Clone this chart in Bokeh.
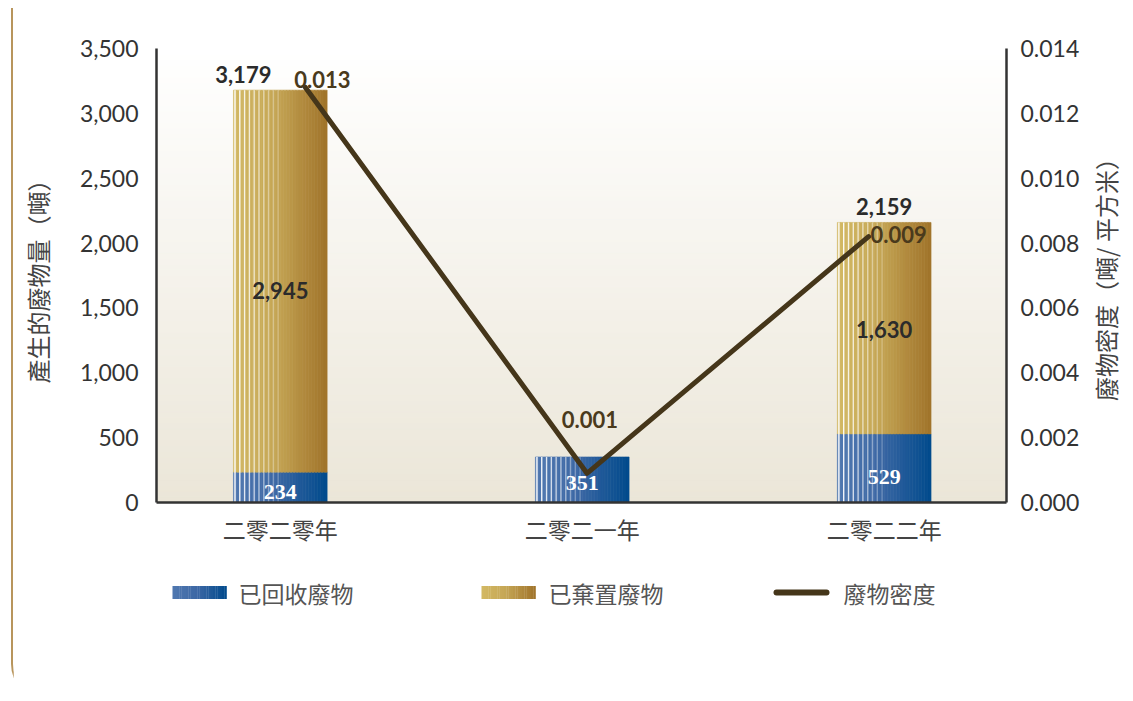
import numpy as np
from bokeh.plotting import figure
from bokeh.models import Range1d, LinearAxis, FixedTicker, NumeralTickFormatter
from bokeh.layouts import column, row
from bokeh.embed import file_html
from bokeh.resources import INLINE
from bokeh.core.properties import value

# ---------------- data ----------------
categories = ["二零二零年", "二零二一年", "二零二二年"]
recycled = [234, 351, 529]
disposed = [2945, 0, 1630]
density = [0.0128, 0.0009, 0.0082]
density_labels = ["0.013", "0.001", "0.009"]
left_ticks = [0, 500, 1000, 1500, 2000, 2500, 3000, 3500]
right_ticks = [0.000, 0.002, 0.004, 0.006, 0.008, 0.010, 0.012, 0.014]
series_names = ["已回收廢物", "已棄置廢物", "廢物密度"]
left_title = "產生的廢物量（噸）"
right_title = "廢物密度（噸/ 平方米）"

totals = [r + d for r, d in zip(recycled, disposed)]
xs = list(range(len(categories)))

# ---------------- style ----------------
NUM_FONT = "Lato"
CJK_FONT = "Noto Sans CJK TC"
BLUE_STOPS = [(0.0, "#5078b0"), (0.45, "#3d68a5"), (1.0, "#004a8c")]
GOLD_STOPS = [(0.0, "#d3b964"), (0.45, "#c5a655"), (1.0, "#a0732a")]
LINE_COLOR = "#45361a"
BG_TOP, BG_BOTTOM = "#ffffff", "#ebe6d8"
BORDER = "#b8955c"

W = 1077          # main + legend figure width
W_RT = 41         # strip holding the right axis title
H1 = 560
H2 = 130
B_LEFT, B_RIGHT = 143, 84
B_TOP, B_BOTTOM = 40, 66
BAR_W = 0.31
X_RANGE = (-0.41, 2.405)
LINE_X_RANGE = (-0.529, 2.490)
FRAME_W = W - B_LEFT - B_RIGHT
FRAME_H = H1 - B_TOP - B_BOTTOM


def hex2rgb(h):
    h = h.lstrip("#")
    return np.array([int(h[i:i + 2], 16) for i in (0, 2, 4)], dtype=float)


def grad(stops, t):
    for (t0, c0), (t1, c1) in zip(stops[:-1], stops[1:]):
        if t <= t1:
            f = (t - t0) / (t1 - t0) if t1 > t0 else 0
            c = hex2rgb(c0) * (1 - f) + hex2rgb(c1) * f
            return "#%02x%02x%02x" % tuple(int(round(v)) for v in c)
    return stops[-1][1]


p = figure(width=W, height=H1, output_backend="svg", toolbar_location=None,
           x_range=Range1d(*X_RANGE), y_range=Range1d(0, left_ticks[-1]),
           min_border_left=B_LEFT, min_border_right=B_RIGHT, min_border_top=B_TOP,
           min_border_bottom=B_BOTTOM)
p.extra_x_ranges = {"line_x": Range1d(*LINE_X_RANGE)}
p.extra_y_ranges = {"density": Range1d(0, right_ticks[-1])}
p.outline_line_color = None
p.xgrid.visible = False
p.ygrid.visible = False
p.background_fill_color = "white"
p.border_fill_color = "white"

# background gradient (decorative)
NB = 80
ymax = left_ticks[-1]
bg_bottom = [ymax * k / NB for k in range(NB)]
bg_top = [ymax * (k + 1) / NB + 1 for k in range(NB)]
bg_col = [grad([(0, BG_BOTTOM), (1, BG_TOP)], (k + 0.5) / NB) for k in range(NB)]
p.quad(left=X_RANGE[0] - 1, right=X_RANGE[1] + 1, bottom=bg_bottom, top=bg_top,
       fill_color=bg_col, line_color=bg_col, line_width=1)

# gradient bars built from thin slices
NS = 30
px = (X_RANGE[1] - X_RANGE[0]) / FRAME_W
sx, sw, sb, st, sc = [], [], [], [], []
for i in xs:
    for j in range(NS):
        t = (j + 0.5) / NS
        xc = i - BAR_W / 2 + t * BAR_W
        sx.append(xc); sw.append(BAR_W / NS * 1.02); sb.append(0); st.append(recycled[i])
        sc.append(grad(BLUE_STOPS, t))
        if disposed[i] > 0:
            sx.append(xc); sw.append(BAR_W / NS * 1.02); sb.append(recycled[i]); st.append(totals[i])
            sc.append(grad(GOLD_STOPS, t))
p.vbar(x=sx, width=sw, bottom=sb, top=st, fill_color=sc, line_color=sc, line_width=0.6)

# white stripes on left part of bars
NSTR = 10
stx, sty1, sta = [], [], []
for i in xs:
    for k in range(NSTR):
        stx.append(i - BAR_W / 2 + (1.5 + 4.8 * k) * px)
        sty1.append(totals[i])
        sta.append(1.0 - 0.75 * k / (NSTR - 1))
p.segment(x0=stx, x1=stx, y0=[0] * len(stx), y1=sty1, line_color="white",
          line_alpha=sta, line_width=1.4)

# density line
p.line(x=xs, y=density, x_range_name="line_x", y_range_name="density",
       line_width=5, line_color=LINE_COLOR, line_cap="round", line_join="round")

# ---- labels ----
tot_idx = [i for i in xs if disposed[i] > 0]
tot_xoff = {0: -37, 2: 0}
p.text(x=tot_idx, y=[totals[i] for i in tot_idx], text=["{:,}".format(totals[i]) for i in tot_idx],
       x_offset=[tot_xoff[i] for i in tot_idx], y_offset=-16,
       text_align="center", text_baseline="middle", text_font=value(NUM_FONT),
       text_font_style="bold", text_font_size="22px", text_color="#2b2b2b")

p.text(x=tot_idx, y=[recycled[i] + disposed[i] / 2 for i in tot_idx],
       text=["{:,}".format(disposed[i]) for i in tot_idx], y_offset=[9, 1],
       text_align="center", text_baseline="middle", text_font=value(NUM_FONT),
       text_font_style="bold", text_font_size="22px", text_color="#2b2b2b")

p.text(x=xs, y=[r / 2 for r in recycled], text=["{:,}".format(r) for r in recycled],
       y_offset=[5, 3, 9], text_align="center", text_baseline="middle",
       text_font=value("Liberation Serif"), text_font_style="bold",
       text_font_size="22px", text_color="white")

p.text(x=xs, y=density, text=density_labels, x_range_name="line_x", y_range_name="density",
       x_offset=[17, 3, 30], y_offset=[-8, -54, -2], text_align="center", text_baseline="middle",
       text_font=value(NUM_FONT), text_font_style="bold", text_font_size="22px",
       text_color="#4a3a1c")

# ---- axes ----
AX_COL = "#333333"
xa = p.xaxis[0]
xa.ticker = FixedTicker(ticks=xs)
xa.major_label_overrides = {i: c for i, c in enumerate(categories)}
xa.major_tick_out = 0
xa.major_tick_in = 0
xa.minor_tick_out = 0
xa.minor_tick_in = 0
xa.axis_line_color = AX_COL
xa.axis_line_width = 2.5
xa.major_label_standoff = 9
xa.major_label_text_font = CJK_FONT
xa.major_label_text_font_size = "23px"
xa.major_label_text_color = "#444444"

ya = p.yaxis[0]
ya.ticker = FixedTicker(ticks=left_ticks)
ya.formatter = NumeralTickFormatter(format="0,0")
ya.axis_label = left_title

ra = LinearAxis(y_range_name="density", ticker=FixedTicker(ticks=right_ticks),
                formatter=NumeralTickFormatter(format="0.000"))
p.add_layout(ra, "right")

for ax, stand, lstand in ((ya, 18, 22), (ra, 14, 16)):
    ax.major_tick_out = 0
    ax.major_tick_in = 0
    ax.minor_tick_out = 0
    ax.minor_tick_in = 0
    ax.axis_line_color = AX_COL
    ax.axis_line_width = 2.5
    ax.major_label_standoff = stand
    ax.major_label_text_font = NUM_FONT
    ax.major_label_text_font_size = "23px"
    ax.major_label_text_color = "#333333"
    ax.axis_label_standoff = lstand
    ax.axis_label_text_font = CJK_FONT
    ax.axis_label_text_font_size = "24px"
    ax.axis_label_text_font_style = "normal"
    ax.axis_label_text_color = "#444444"

# ---------------- right title strip (reads bottom to top) ----------------
rt = figure(width=W_RT, height=H1, output_backend="svg", toolbar_location=None,
            x_range=Range1d(0, W_RT), y_range=Range1d(0, FRAME_H),
            min_border_left=0, min_border_right=0, min_border_top=B_TOP,
            min_border_bottom=B_BOTTOM, x_axis_type=None, y_axis_type=None)
rt.outline_line_color = None
rt.xgrid.visible = False
rt.ygrid.visible = False
rt.background_fill_color = "white"
rt.border_fill_color = "white"
rt.text(x=[15], y=[FRAME_H / 2 + 2], text=[right_title], angle=np.pi / 2,
        text_align="center", text_baseline="middle", text_font=value(CJK_FONT),
        text_font_size="24px", text_color="#444444")

# ---------------- legend figure (x in page pixels across the frame) ----------------
FRAME_PAGE_LEFT = 156
lg = figure(width=W, height=H2, output_backend="svg", toolbar_location=None,
            x_range=Range1d(FRAME_PAGE_LEFT, FRAME_PAGE_LEFT + FRAME_W), y_range=Range1d(0, H2),
            min_border_left=B_LEFT, min_border_right=B_RIGHT, min_border_top=0, min_border_bottom=0,
            x_axis_type=None, y_axis_type=None)
lg.outline_line_color = None
lg.xgrid.visible = False
lg.ygrid.visible = False
lg.background_fill_color = "white"
lg.border_fill_color = "white"

LY = H2 - 24
box_lefts = [172, 481]
box_w, box_h = 54, 13
NL = 24
ql, qr, qc = [], [], []
for bl, stops in zip(box_lefts, (BLUE_STOPS, GOLD_STOPS)):
    for j in range(NL):
        t = (j + 0.5) / NL
        ql.append(bl + box_w * j / NL)
        qr.append(bl + box_w * (j + 1) / NL + 0.3)
        qc.append(grad(stops, t))
lg.quad(left=ql, right=qr, bottom=LY - box_h / 2, top=LY + box_h / 2,
        fill_color=qc, line_color=None)
lg.line(x=[776, 826], y=[LY, LY], line_width=6, line_color=LINE_COLOR, line_cap="round")
lg.text(x=[238, 548, 843], y=[LY] * 3, text=series_names, text_align="left",
        text_baseline="middle", text_font=value(CJK_FONT), text_font_size="23px",
        text_color="#555555")

layout = row(column(p, lg), rt,
             styles={"margin-left": "11px", "margin-top": "8px",
                     "border-left": "2px solid " + BORDER,
                     "border-bottom": "2px solid transparent",
                     "border-bottom-left-radius": "36px"})

open("out.html", "w").write(file_html(layout, INLINE))
